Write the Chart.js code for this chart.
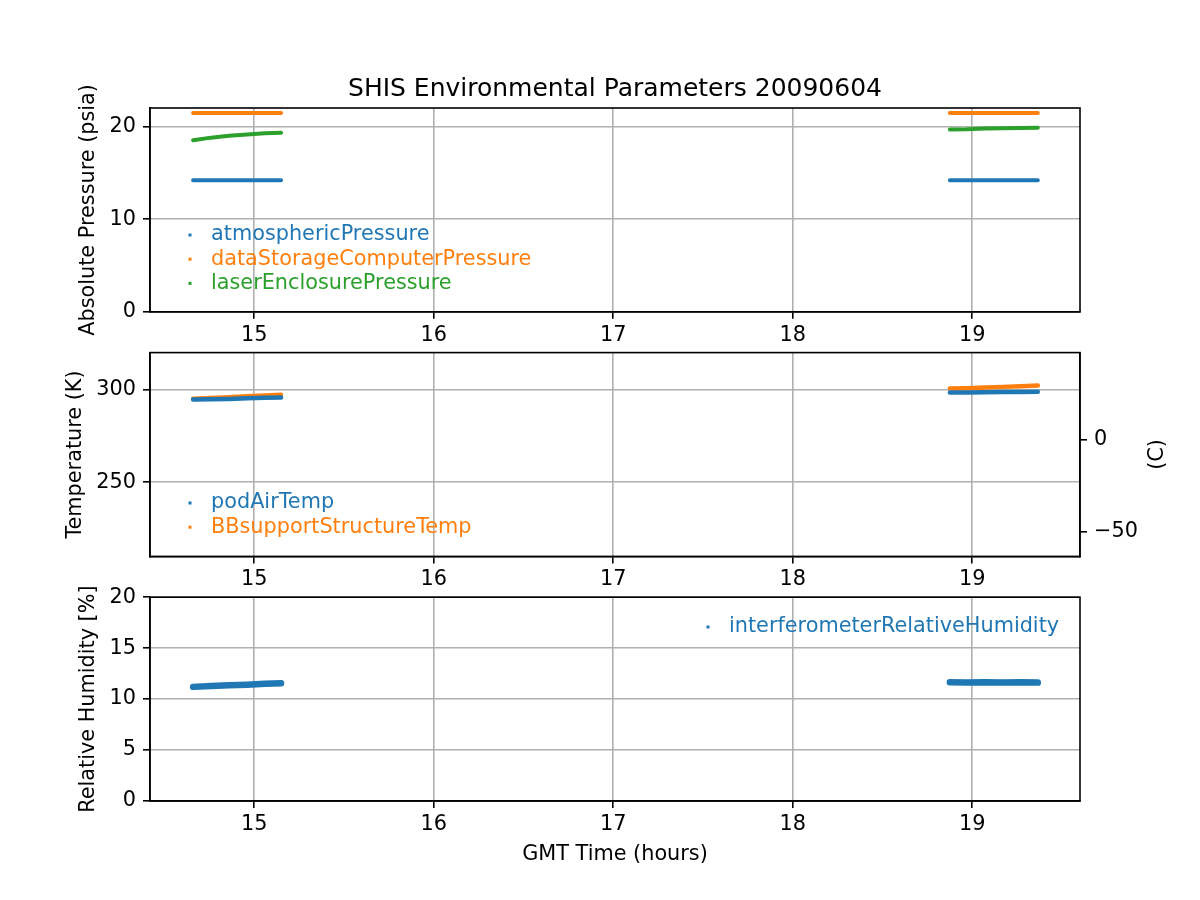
<!DOCTYPE html>
<html>
<head>
<meta charset="utf-8">
<title>SHIS Environmental Parameters 20090604</title>
<script src="https://cdn.jsdelivr.net/npm/chart.js@4.4.1/dist/chart.umd.min.js"></script>
<style>
  body { margin: 0; background: #fff; }
  #fig { position: relative; width: 1200px; height: 900px; }
  #fig canvas { position: absolute; left: 0; }
</style>
</head>
<body>
<div id="fig">
  <canvas id="pressure" width="1200" height="345" style="top:0"></canvas>
  <canvas id="temperature" width="1200" height="245" style="top:345px"></canvas>
  <canvas id="humidity" width="1200" height="340" style="top:560px"></canvas>
</div>
<script>
// sample times (GMT hours); 17 is only a break between the two flights (null values)
const times = [14.66, 14.76, 14.86, 14.96, 15.06, 15.15, 17.0, 18.875, 18.97, 19.07, 19.17, 19.27, 19.365];

// pressures (psia)
const atmosphericPressure = [14.21, 14.21, 14.21, 14.21, 14.21, 14.21, null, 14.21, 14.21, 14.21, 14.21, 14.21, 14.21];
const dataStorageComputerPressure = [21.45, 21.45, 21.45, 21.45, 21.45, 21.45, null, 21.45, 21.45, 21.45, 21.45, 21.45, 21.45];
const laserEnclosurePressure = [18.53, 18.8, 19.0, 19.15, 19.27, 19.32, null, 19.68, 19.7, 19.78, 19.82, 19.84, 19.86];

// temperatures (K)
const podAirTemp = [294.7, 294.8, 295.0, 295.3, 295.6, 295.8, null, 298.5, 298.5, 298.6, 298.7, 298.8, 298.9];
const BBsupportStructureTemp = [295.1, 295.5, 295.9, 296.4, 296.9, 297.3, null, 300.6, 300.8, 301.2, 301.5, 301.9, 302.2];

// relative humidity (%)
const interferometerRelativeHumidity = [11.2, 11.28, 11.35, 11.42, 11.5, 11.55, null, 11.65, 11.62, 11.66, 11.63, 11.65, 11.62];

// tick labels
const xTicks = [15, 16, 17, 18, 19];
const pressureTicks = [0, 10, 20];
const kelvinTicks = [250, 300];
const celsiusTicks = [-50, 0];
const humidityTicks = [0, 5, 10, 15, 20];

const blue = '#1f77b4';
const orange = '#ff7f0e';
const green = '#2ca02c';
const FONT = "'DejaVu Sans', sans-serif";

Chart.defaults.font.family = FONT;
Chart.defaults.font.size = 20.8;
Chart.defaults.color = '#000';

function points(values) {
  return times.map((t, i) => ({ x: t, y: values[i] }));
}

function series(label, values, color, width) {
  return {
    label: label,
    data: points(values),
    borderColor: color,
    backgroundColor: color,
    borderWidth: width,
    pointRadius: 0,
    borderCapStyle: 'round',
    borderJoinStyle: 'round',
    spanGaps: false
  };
}

// force the axis size so the plot areas line up like the matplotlib subplots
function fixSize(size) {
  return function (scale) {
    if (scale.isHorizontal()) scale.height = size; else scale.width = size;
    scale.paddingTop = 0; scale.paddingBottom = 0;
    scale.paddingLeft = 0; scale.paddingRight = 0;
  };
}

function fixedTicks(list) {
  return function (scale) {
    scale.ticks = list.map(v => ({ value: v }));
  };
}

const grid = { color: '#b0b0b0', lineWidth: 1.6, tickColor: '#000', tickLength: 7, tickWidth: 1.6 };
const border = { color: '#000', width: 1.6 };

function xScale(height, title) {
  return {
    type: 'linear',
    min: 14.42,
    max: 19.6,
    grid: grid,
    border: border,
    ticks: { padding: 4, maxRotation: 0 },
    afterBuildTicks: fixedTicks(xTicks),
    afterFit: fixSize(height),
    title: title
      ? { display: true, text: title, padding: { top: 0, bottom: 32.5 } }
      : { display: false }
  };
}

function yScale(min, max, tickList, title, labelX) {
  return {
    type: 'linear',
    position: 'left',
    min: min,
    max: max,
    grid: grid,
    border: border,
    ticks: { padding: 7 },
    afterBuildTicks: fixedTicks(tickList),
    afterFit: fixSize(150),
    title: { display: true, text: title, padding: { top: labelX - 12.48, bottom: 0 } }
  };
}

// legend without frame, inside the plot
const innerLegend = {
  id: 'innerLegend',
  afterDraw(chart, args, opts) {
    const ctx = chart.ctx;
    ctx.save();
    ctx.font = '20.8px ' + FONT;
    ctx.textBaseline = 'middle';
    chart.data.datasets.forEach((ds, i) => {
      const y = opts.y + i * opts.dy;
      ctx.fillStyle = ds.borderColor;
      ctx.fillRect(opts.x - 1.5, y - 1.5, 3, 3);
      ctx.fillText(ds.label, opts.x + 21, y);
    });
    ctx.restore();
  }
};

// top and right spines
const frame = {
  id: 'frame',
  afterDraw(chart) {
    const a = chart.chartArea;
    const ctx = chart.ctx;
    ctx.save();
    ctx.strokeStyle = '#000';
    ctx.lineWidth = 1.6;
    ctx.strokeRect(a.left, a.top, a.right - a.left, a.bottom - a.top);
    ctx.restore();
  }
};

// rotated label of the Celsius axis
const celsiusLabel = {
  id: 'celsiusLabel',
  afterDraw(chart) {
    const a = chart.chartArea;
    const ctx = chart.ctx;
    ctx.save();
    ctx.translate(1158, (a.top + a.bottom) / 2);
    ctx.rotate(-Math.PI / 2);
    ctx.font = '20.8px ' + FONT;
    ctx.fillStyle = '#000';
    ctx.textAlign = 'center';
    ctx.textBaseline = 'middle';
    ctx.fillText('(C)', 0, 0);
    ctx.restore();
  }
};

const common = {
  responsive: false,
  animation: false,
  devicePixelRatio: 1
};

// pressures
new Chart(document.getElementById('pressure'), {
  type: 'line',
  data: {
    datasets: [
      series('atmosphericPressure', atmosphericPressure, blue, 4),
      series('dataStorageComputerPressure', dataStorageComputerPressure, orange, 4),
      series('laserEnclosurePressure', laserEnclosurePressure, green, 4)
    ]
  },
  plugins: [innerLegend, frame],
  options: Object.assign({}, common, {
    layout: { padding: { left: 0, right: 120, top: 0, bottom: 0 } },
    scales: {
      x: xScale(33.2),
      y: yScale(0, 22.0, pressureTicks, 'Absolute Pressure (psia)', 89)
    },
    plugins: {
      legend: { display: false },
      tooltip: { enabled: false },
      title: {
        display: true,
        text: 'SHIS Environmental Parameters 20090604',
        fullSize: false,
        color: '#000',
        font: { size: 25, weight: 'normal' },
        padding: { top: 74, bottom: 4 }
      },
      innerLegend: { x: 190, y: 235, dy: 24.2 }
    }
  })
});

// temperatures, Kelvin on the left, Celsius on the right
new Chart(document.getElementById('temperature'), {
  type: 'line',
  data: {
    datasets: [
      series('podAirTemp', podAirTemp, blue, 4.5),
      series('BBsupportStructureTemp', BBsupportStructureTemp, orange, 4.5)
    ]
  },
  plugins: [innerLegend, frame, celsiusLabel],
  options: Object.assign({}, common, {
    layout: { padding: { left: 0, right: 0, top: 7.6, bottom: 0 } },
    scales: {
      x: xScale(33.6),
      y: yScale(210, 320, kelvinTicks, 'Temperature (K)', 76),
      yC: {
        type: 'linear',
        position: 'right',
        min: 210 - 273.15,
        max: 320 - 273.15,
        grid: Object.assign({}, grid, { drawOnChartArea: false }),
        border: border,
        ticks: {
          padding: 7,
          callback: v => (v < 0 ? '\u2212' + Math.abs(v) : String(v))
        },
        afterBuildTicks: fixedTicks(celsiusTicks),
        afterFit: fixSize(120)
      }
    },
    plugins: {
      legend: { display: false },
      tooltip: { enabled: false },
      innerLegend: { x: 190, y: 158, dy: 24.2 }
    }
  })
});

// humidity
new Chart(document.getElementById('humidity'), {
  type: 'line',
  data: {
    datasets: [
      series('interferometerRelativeHumidity', interferometerRelativeHumidity, blue, 6.5)
    ]
  },
  plugins: [innerLegend, frame],
  options: Object.assign({}, common, {
    layout: { padding: { left: 0, right: 120, top: 37.2, bottom: 0 } },
    scales: {
      x: xScale(99, 'GMT Time (hours)'),
      y: yScale(0, 20, humidityTicks, 'Relative Humidity [%]', 89)
    },
    plugins: {
      legend: { display: false },
      tooltip: { enabled: false },
      innerLegend: { x: 708, y: 67, dy: 24.2 }
    }
  })
});
</script>
</body>
</html>
